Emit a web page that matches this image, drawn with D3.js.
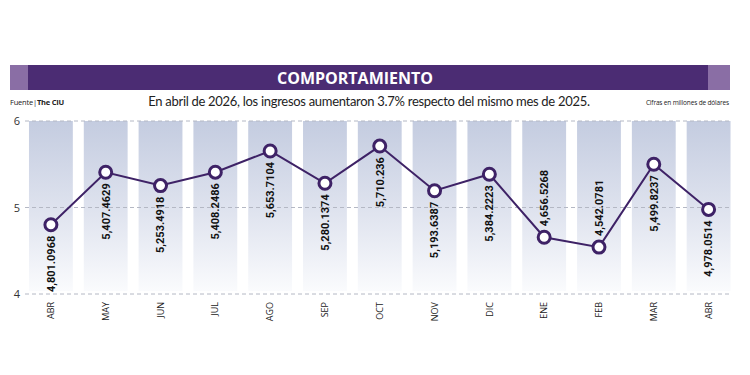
<!DOCTYPE html>
<html>
<head>
<meta charset="utf-8">
<script src="https://cdn.jsdelivr.net/npm/d3@7"></script>
<style>
  body { margin: 0; background: #fff; }
  svg { display: block; font-family: "Open Sans", sans-serif; }
</style>
</head>
<body>
<div id="container"></div>
<script>
// months shown on the x axis
var months = ["ABR", "MAY", "JUN", "JUL", "AGO", "SEP", "OCT", "NOV", "DIC", "ENE", "FEB", "MAR", "ABR"];
// ingresos, millones de dolares
var ingresos = [4801.0968, 5407.4629, 5253.4918, 5408.2486, 5653.7104, 5280.1374, 5710.236,
                5193.6387, 5384.2223, 4656.5268, 4542.0781, 5499.8237, 4978.0514];
var yTicks = [4000, 5000, 6000];

var width = 750, height = 375;
var plotTop = 121, plotBottom = 294;

var svg = d3.select("#container").append("svg")
    .attr("width", width)
    .attr("height", height);

// header bar
svg.append("rect").attr("x", 10).attr("y", 65).attr("width", 720).attr("height", 25).attr("fill", "#8a6ea5");
svg.append("rect").attr("x", 28).attr("y", 65).attr("width", 680).attr("height", 25).attr("fill", "#4b2c73");
svg.append("text")
    .attr("x", 355).attr("y", 84)
    .attr("text-anchor", "middle")
    .attr("fill", "#fff")
    .style("font-size", "16px")
    .style("font-weight", "700")
    .text("COMPORTAMIENTO");

// subtitle row
var fuente = svg.append("text").attr("x", 10).attr("y", 105)
    .style("font-size", "7.5px")
    .style("letter-spacing", "-0.2px")
    .attr("fill", "#222");
fuente.append("tspan").text("Fuente|");
fuente.append("tspan").style("font-weight", "700").text("The CIU");

svg.append("text")
    .attr("x", 369).attr("y", 106)
    .attr("text-anchor", "middle")
    .attr("fill", "#222")
    .style("font-family", "Lato, sans-serif")
    .style("font-size", "13px")
    .style("letter-spacing", "-0.3px")
    .text("En abril de 2026, los ingresos aumentaron 3.7% respecto del mismo mes de 2025.");

svg.append("text")
    .attr("x", 729).attr("y", 105)
    .attr("text-anchor", "end")
    .attr("fill", "#222")
    .style("font-size", "6.5px")
    .style("letter-spacing", "-0.15px")
    .text("Cifras en millones de dólares");

// scales
var x = d3.scaleBand()
    .domain(d3.range(months.length))
    .range([23.5, 736])
    .paddingInner(0.2)
    .paddingOuter(0.1);

var y = d3.scaleLinear()
    .domain([4000, 6000])
    .range([plotBottom, plotTop]);

// column gradient
var grad = svg.append("defs").append("linearGradient")
    .attr("id", "colGrad")
    .attr("x1", 0).attr("y1", 0).attr("x2", 0).attr("y2", 1);
grad.append("stop").attr("offset", "0%").attr("stop-color", "#c4cce0");
grad.append("stop").attr("offset", "55%").attr("stop-color", "#e0e4ef");
grad.append("stop").attr("offset", "100%").attr("stop-color", "#fafbfd");

svg.append("g").selectAll("rect")
    .data(months)
    .join("rect")
    .attr("x", function(d, i) { return x(i); })
    .attr("y", plotTop)
    .attr("width", x.bandwidth())
    .attr("height", plotBottom - plotTop - 3)
    .attr("fill", "url(#colGrad)");

// grid lines + y labels
svg.append("g").selectAll("line")
    .data(yTicks)
    .join("line")
    .attr("x1", 25).attr("x2", 731)
    .attr("y1", function(d) { return y(d); })
    .attr("y2", function(d) { return y(d); })
    .attr("stroke", "#b4b8c4")
    .attr("stroke-width", 1)
    .attr("stroke-dasharray", "4,3");

svg.append("g").selectAll("text")
    .data(yTicks)
    .join("text")
    .attr("x", 17)
    .attr("y", function(d) { return y(d) + 4; })
    .attr("text-anchor", "middle")
    .attr("fill", "#333")
    .style("font-size", "11px")
    .text(function(d) { return d / 1000; });

// month labels
svg.append("g").selectAll("text")
    .data(months)
    .join("text")
    .attr("transform", function(d, i) {
        return "translate(" + (x(i) + x.bandwidth() / 2) + ",302) rotate(-90)";
    })
    .attr("text-anchor", "end")
    .attr("dy", "0.35em")
    .attr("fill", "#222")
    .style("font-size", "9px")
    .text(function(d) { return d; });

// line
var cx = function(d, i) { return x(i) + x.bandwidth() / 2; };
var line = d3.line()
    .x(cx)
    .y(function(d) { return y(d); });

svg.append("path")
    .datum(ingresos)
    .attr("d", line)
    .attr("fill", "none")
    .attr("stroke", "#3e2266")
    .attr("stroke-width", 2);

// value labels (below the point unless it would run past the baseline)
var fmt = function(v) {
    return v.toLocaleString("en-US", { maximumFractionDigits: 4 });
};
var labels = svg.append("g").selectAll("text")
    .data(ingresos)
    .join("text")
    .attr("dy", "0.35em")
    .attr("fill", "#111")
    .style("font-family", "Roboto, sans-serif")
    .style("font-size", "11px")
    .style("font-weight", "700")
    .text(fmt);

labels.each(function(d, i) {
    var len = this.getComputedTextLength();
    var py = y(d);
    var below = py + 11 + len < plotBottom;
    d3.select(this)
        .attr("text-anchor", below ? "end" : "start")
        .attr("transform", "translate(" + cx(d, i) + "," + (below ? py + 11 : py - 11) + ") rotate(-90)");
});

// points
svg.append("g").selectAll("circle")
    .data(ingresos)
    .join("circle")
    .attr("cx", cx)
    .attr("cy", function(d) { return y(d); })
    .attr("r", 6)
    .attr("fill", "#fff")
    .attr("stroke", "#3e2266")
    .attr("stroke-width", 3);
</script>
</body>
</html>
